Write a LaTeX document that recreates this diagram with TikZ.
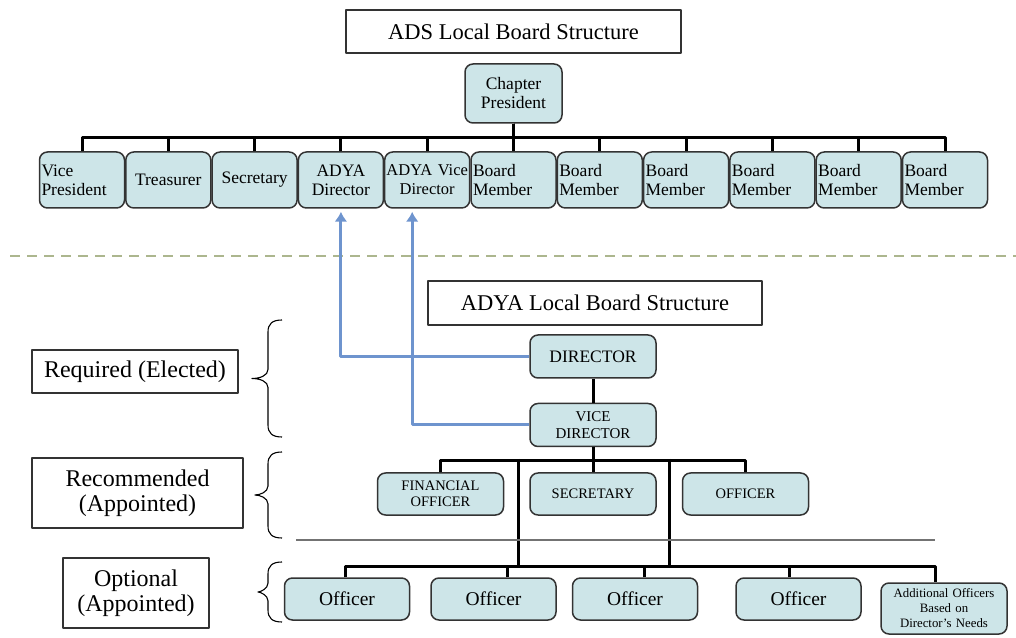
\documentclass[tikz,border=0pt]{standalone}
\usepackage{fontspec}
\setmainfont{Liberation Serif}
\usepackage[svgnames]{xcolor}
\usetikzlibrary{arrows.meta}

\definecolor{boxfill}{RGB}{205,229,232}
\definecolor{linkblue}{RGB}{110,148,206}
\definecolor{dashgreen}{RGB}{172,182,142}

\begin{document}
\begin{tikzpicture}[x=1pt, y=1pt, line join=round,
      every node/.append style={text=black},
      edge from parent/.style={draw, line width=3pt, black},
      edge from parent path={(\tikzparentnode.south) -- ++(0,-13.5pt) -| (\tikzchildnode.north)}]
    \tikzstyle{heading} = [draw=black!80, line width=1.2pt, minimum height=43pt, font=\fontsize{22.5}{26}\selectfont]
    \tikzstyle{card} = [draw=black!80, fill=boxfill, line width=1.5pt, rounded corners=8pt, inner xsep=2pt, inner ysep=0pt, align=center]
    \tikzstyle{member} = [card, text width=81pt, minimum height=56pt, font=\fontsize{17.5}{19}\selectfont]
    \tikzstyle{role} = [card, text width=122pt, minimum height=42pt, font=\fontsize{14.5}{16.5}\selectfont]
    \tikzstyle{officer} = [card, text width=121pt, minimum height=42pt, font=\fontsize{19.5}{22}\selectfont]
    \tikzstyle{tier} = [draw=black!80, line width=1.2pt, align=center, inner sep=0pt, font=\fontsize{24}{25}\selectfont]
    \tikzstyle{upline} = [draw=linkblue, line width=3pt, shorten >=3pt, -{Latex[length=10pt,width=13pt]}]
    \useasboundingbox (0,0) rectangle (1016,637);

    % ADS board
    \node[heading, minimum width=335pt] (adstitle) at (513.5,605.5) {ADS Local Board Structure};
    \node[member, text width=93pt, minimum height=59pt] (president) at (513.5,543.5) {Chapter\\President}
      [level distance=86.5pt, sibling distance=86.3pt]
      child {node[member, align=left] {Vice\\President}}
      child {node[member] {Treasurer}}
      child {node[member] {Secretary}}
      child {node[member] (adyadir) {ADYA\\Director}}
      child {node[member, inner xsep=0pt, text width=85pt, font=\fontsize{16.5}{19}\selectfont] (adyavice) {ADYA Vice\\Director}}
      child {node[member, align=left] {Board\\Member}}
      child {node[member, align=left] {Board\\Member}}
      child {node[member, align=left] {Board\\Member}}
      child {node[member, align=left] {Board\\Member}}
      child {node[member, align=left] {Board\\Member}}
      child {node[member, align=left] {Board\\Member}};

    \draw[dashgreen, line width=2.5pt, dash pattern=on 10pt off 7pt] (10,381) -- (1016,381);

    % ADYA board
    \node[heading, minimum width=334pt, minimum height=44pt] (adyatitle) at (595,334) {ADYA Local Board Structure};
    \node[card, text width=122pt, minimum height=43pt, font=\fontsize{17.5}{20}\selectfont] (director) at (593,280.5) {DIRECTOR};
    \node[role, minimum height=43pt, font=\fontsize{15}{17}\selectfont] (vice) at (593,212) {VICE\\DIRECTOR}
      [level distance=69pt, sibling distance=152.5pt]
      child {node[role] (finance) {FINANCIAL\\OFFICER}}
      child {node[role] (secretary) {SECRETARY}}
      child {node[role] (officer) {OFFICER}};
    \draw[line width=3pt] (director) -- (vice);

    \node[officer] (o1) at (347,38) {Officer};
    \node[officer] (o2) at (493.5,38) {Officer};
    \node[officer] (o3) at (635,38) {Officer};
    \node[officer] (o4) at (798.5,38) {Officer};
    \node[card, text width=122pt, minimum height=51pt, font=\fontsize{12.8}{15}\selectfont] (extra) at (944,28.5) {Additional Officers\\Based on\\Director’s Needs};

    \coordinate (splitL) at (518,178);
    \coordinate (splitR) at (669,178);
    \coordinate (lbus) at (600,71);
    \draw[line width=3pt] (splitL) -- (splitL |- lbus) (splitR) -- (splitR |- lbus);
    \draw[line width=3pt] ([xshift=-2pt]o1.north) |- (lbus) -| ([xshift=-9pt]extra.north);
    \draw[line width=3pt] ([xshift=13.5pt]o2.north) -- ([xshift=13.5pt]o2.north |- lbus)
      ([xshift=9pt]o3.north) -- ([xshift=9pt]o3.north |- lbus)
      ([xshift=-9.5pt]o4.north) -- ([xshift=-9.5pt]o4.north |- lbus);
    \draw[black!55, line width=1.5pt] (296,97) -- (935,97);

    \draw[upline] (director.west) -| (adyadir.south);
    \draw[upline] (vice.west) -| ([xshift=-15pt]adyavice.south);

    % levels
    \node[tier, minimum width=206pt, minimum height=43pt] (required) at (135,265.5) {Required (Elected)};
    \node[tier, minimum width=211pt, minimum height=70pt] (recommended) at (137.5,144) {Recommended\\(Appointed)};
    \node[tier, minimum width=146pt, minimum height=70pt] (optional) at (136,44) {Optional\\(Appointed)};
    \foreach \ya/\yb/\xt in {317/200/252, 185/99/255, 75/15/258} {
      \pgfmathsetmacro\ym{(\ya+\yb)/2}
      \draw[line width=1.1pt] (282,\ya) .. controls (272,\ya) and (268,\ya-4) .. (268,\ya-12)
        -- (268,\ym+9) .. controls (268,\ym+3) and (260,\ym) .. (\xt,\ym)
        .. controls (260,\ym) and (268,\ym-3) .. (268,\ym-9)
        -- (268,\yb+12) .. controls (268,\yb+4) and (272,\yb) .. (282,\yb);
    }
\end{tikzpicture}
\end{document}
